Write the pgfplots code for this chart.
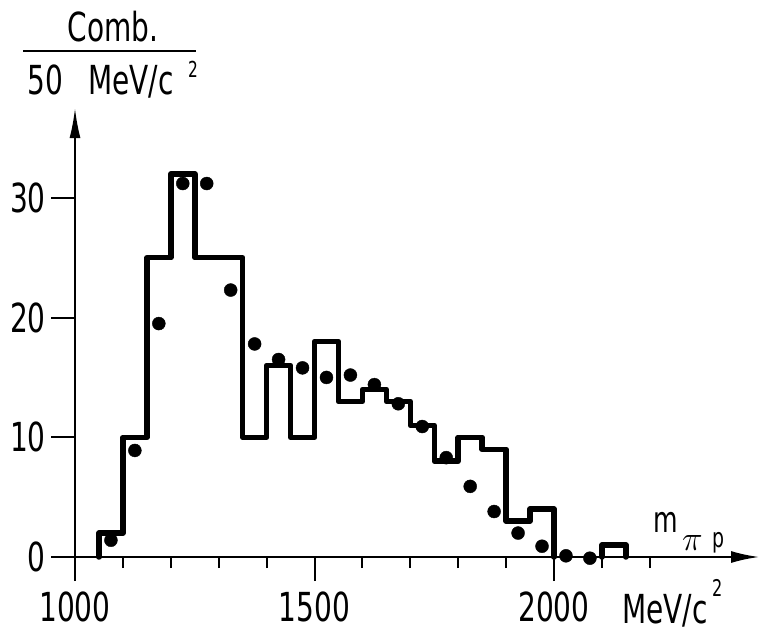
\documentclass[border=0pt]{standalone}
\usepackage{pgfplots}
\pgfplotsset{compat=1.18}
\usepackage{fontspec}
\setmainfont{DejaVu Sans}[FakeStretch=0.7]
\usetikzlibrary{arrows.meta}

\begin{document}
\fontsize{40}{48}\selectfont%
\begin{tikzpicture}[x=1pt,y=1pt]
\begin{axis}[
    at={(75pt,74pt)}, anchor=south west,
    x=0.479pt, y=11.97pt,
    xmin=1000, xmax=2428,
    ymin=0, ymax=37.5,
    axis lines=left,
    clip=false,
    axis line style={line width=2pt, -{Latex[length=28pt,width=12pt]}},
    every outer x axis line/.append style={-{Latex[length=28pt,width=12pt]}},
    every outer y axis line/.append style={-{Latex[length=30pt,width=11pt]}},
    tick align=outside,
    tick style={line width=2pt, black},
    major tick length=24pt,
    minor tick length=11pt,
    xtick={1000,1500,2000},
    xticklabels={1000,1500,2000},
    minor xtick={1100,1200,1300,1400,1600,1700,1800,1900,2100,2200},
    ytick={0,10,20,30},
    yticklabels={0,10,20,30},
    xticklabel style={inner sep=2pt, yshift=-9pt},
    yticklabel style={inner sep=2pt, xshift=-3pt},
]
% histogram (50 MeV bins, left edges)
\addplot[const plot, line width=5.5pt, line join=round, line cap=round] coordinates {
    (1050,0) (1050,2) (1100,10) (1150,25) (1200,32) (1250,25) (1300,25)
    (1350,10) (1400,16) (1450,10) (1500,18) (1550,13) (1600,14) (1650,13)
    (1700,11) (1750,8) (1800,10) (1850,9) (1900,3) (1950,4) (2000,0)
};
\addplot[const plot, line width=5.5pt, line join=round, line cap=round] coordinates {
    (2100,0) (2100,1) (2150,0)
};
% points
\addplot[only marks, mark=*, mark size=6.5pt, black] coordinates {
    (1075,1.4) (1125,8.9) (1175,19.5) (1225,31.2) (1275,31.2) (1325,22.3)
    (1375,17.8) (1425,16.5) (1475,15.8) (1525,15.0) (1575,15.2) (1625,14.4)
    (1675,12.8) (1725,10.9) (1775,8.3) (1825,5.9) (1875,3.8) (1925,2.0)
    (1975,0.9) (2025,0.1) (2075,-0.1)
};
\end{axis}
% y label: Comb. / 50 MeV/c^2
\node[anchor=base] at (113,589) {Comb.};
\draw[line width=2pt] (23,580) -- (196,580);
\node[anchor=base west, inner sep=0pt] at (27,536) {50};
\node[anchor=base west, inner sep=0pt] at (88,536) {MeV/c};
\node[anchor=base west, inner sep=0pt] at (188,553) {\fontsize{22}{22}\selectfont 2};
% x label
\node[anchor=base west, inner sep=0pt] at (622,8) {MeV/c};
\node[anchor=base west, inner sep=0pt] at (712,35) {\fontsize{23}{23}\selectfont 2};
\node[anchor=base west, inner sep=0pt] at (653,98) {\fontsize{36}{36}\selectfont m};
\node[anchor=base west, inner sep=0pt] at (682,81) {\scalebox{1.4}{\fontsize{24.88}{25}\selectfont$\pi$}};
\node[anchor=base west, inner sep=0pt] at (712,83) {\fontsize{27}{27}\selectfont p};
\pgfresetboundingbox
\useasboundingbox (0,0) rectangle (759,631);
\end{tikzpicture}
\end{document}
